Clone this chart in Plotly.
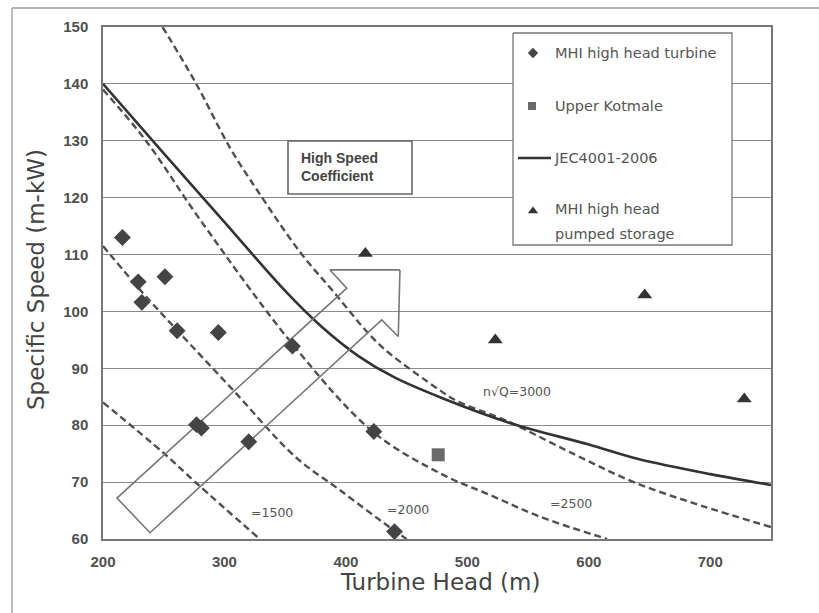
import plotly.graph_objects as go

# ---- data ----
turbine_x = [216, 229, 232, 251, 261, 295, 356, 277, 281, 320, 423, 440]
turbine_y = [113, 105.2, 101.6, 106.1, 96.6, 96.3, 93.9, 80.1, 79.5, 77.1, 78.9, 61.3]

kotmale_x = [476]
kotmale_y = [74.8]

pumped_x = [416, 523, 646, 728]
pumped_y = [110.2, 95.0, 102.9, 84.6]

jec_x = [200, 250, 300, 350, 380, 410, 440, 480, 535, 600, 640, 700, 750]
jec_y = [140, 127.8, 115.7, 103.6, 97.3, 92.2, 88.4, 84.7, 80.4, 76.6, 74.1, 71.4, 69.5]

c3000_x = [249, 276, 305, 327, 362, 390, 420, 436, 477, 491, 532, 587, 637, 692, 750]
c3000_y = [150, 140.3, 128.6, 121.3, 110.5, 103.4, 95.8, 92.6, 86.2, 84.3, 80.8, 75.0, 70.0, 65.9, 62.1]

c2500_x = [200, 235, 280, 357, 422, 478, 519, 560, 609, 615]
c2500_y = [139, 130.1, 116.1, 94.0, 78.9, 71.5, 67.7, 63.9, 60.4, 60]

c2000_x = [200, 233, 261, 307, 358, 395, 439, 450]
c2000_y = [111.5, 103.2, 96.7, 86.2, 74.5, 68.6, 61.6, 60]

c1500_x = [200, 250, 277, 329]
c1500_y = [84, 75.1, 69.8, 60]

curve_labels = ["=1500", "=2000", "=2500", "n\u221aQ=3000"]
curve_label_x = [339, 451, 585, 541]
curve_label_y = [64.6, 65.1, 66.3, 85.9]

arrow_x = [444.5, 386.9, 400.7, 211.5, 238.7, 429.5, 443.1, 444.5]
arrow_y = [107.3, 107.3, 104.1, 67.2, 61.1, 98.5, 95.6, 107.3]

x_ticks = [200, 300, 400, 500, 600, 700]
y_ticks = [60, 70, 80, 90, 100, 110, 120, 130, 140, 150]

legend_names = ["MHI high head turbine", "Upper Kotmale", "JEC4001-2006",
                "MHI high head", "pumped storage"]

DASH = "#505050"

fig = go.Figure()

dash_style = dict(color=DASH, width=2.4, dash="7px,4px")
for cx, cy in [(c1500_x, c1500_y), (c2000_x, c2000_y), (c2500_x, c2500_y), (c3000_x, c3000_y)]:
    fig.add_trace(go.Scatter(x=cx, y=cy, mode="lines", line=dash_style,
                             line_shape="spline", showlegend=False, hoverinfo="skip"))

fig.add_trace(go.Scatter(x=jec_x, y=jec_y, mode="lines",
                         line=dict(color="#333333", width=2.6, smoothing=1.0),
                         line_shape="spline", showlegend=False))

fig.add_trace(go.Scatter(x=arrow_x, y=arrow_y, mode="lines",
                         line=dict(color="#777777", width=1.6), showlegend=False,
                         hoverinfo="skip"))

fig.add_trace(go.Scatter(x=turbine_x, y=turbine_y, mode="markers",
                         marker=dict(symbol="diamond", size=13, color="#444444"),
                         showlegend=False))
fig.add_trace(go.Scatter(x=kotmale_x, y=kotmale_y, mode="markers",
                         marker=dict(symbol="square", size=13, color="#6a6a6a"),
                         showlegend=False))
fig.add_trace(go.Scatter(x=pumped_x, y=pumped_y, mode="markers",
                         marker=dict(symbol="triangle-up", size=13, color="#333333"),
                         showlegend=False))

# ---- boxes and manual legend on a pixel-coordinate overlay axis ----
def box(x0, x1, y0, y1, color, width):
    return go.Scatter(x=[x0, x1, x1, x0, x0], y=[y0, y0, y1, y1, y0], xaxis="x2", yaxis="y2",
                      mode="lines", fill="toself", fillcolor="white",
                      line=dict(color=color, width=width), showlegend=False, hoverinfo="skip")

fig.add_trace(box(513, 732, 33, 245, "#777777", 1.3))
fig.add_trace(box(288, 412, 141, 194, "#666666", 1.6))

fig.add_trace(go.Scatter(x=[533], y=[53], xaxis="x2", yaxis="y2", mode="markers",
                         marker=dict(symbol="diamond", size=8, color="#444444"),
                         showlegend=False, hoverinfo="skip"))
fig.add_trace(go.Scatter(x=[532], y=[106], xaxis="x2", yaxis="y2", mode="markers",
                         marker=dict(symbol="square", size=8, color="#6a6a6a"),
                         showlegend=False, hoverinfo="skip"))
fig.add_trace(go.Scatter(x=[518, 551], y=[158, 158], xaxis="x2", yaxis="y2", mode="lines",
                         line=dict(color="#333333", width=2.4),
                         showlegend=False, hoverinfo="skip"))
fig.add_trace(go.Scatter(x=[533], y=[211], xaxis="x2", yaxis="y2", mode="markers",
                         marker=dict(symbol="triangle-up", size=9, color="#333333"),
                         showlegend=False, hoverinfo="skip"))

shapes = [
    dict(type="line", xref="paper", yref="paper", x0=(12 - 103) / 668, x1=(819 - 103) / 668,
         y0=(539 - 8) / 512, y1=(539 - 8) / 512, line=dict(color="#9a9a9a", width=1.3)),
    dict(type="line", xref="paper", yref="paper", x0=(12 - 103) / 668, x1=(12 - 103) / 668,
         y0=(539 - 8) / 512, y1=(539 - 613) / 512, line=dict(color="#9a9a9a", width=1.3)),
]

leg_font = dict(family="DejaVu Sans", size=14.5, color="#555555")
ann = []
leg_y = [53, 106, 158, 209, 234]
leg_x = [553, 553, 552, 553, 553]
for name, lx, ly in zip(legend_names, leg_x, leg_y):
    ann.append(dict(xref="x2", yref="y2", x=lx, y=ly, text=name, showarrow=False,
                    xanchor="left", yanchor="middle", align="left", font=leg_font))

ann.append(dict(xref="x2", yref="y2", x=299, y=167, text="<b>High Speed<br>Coefficient</b>",
                showarrow=False, xanchor="left", yanchor="middle", align="left",
                font=dict(family="Liberation Sans", size=14, color="#444444")))

for t, lx, ly in zip(curve_labels, curve_label_x, curve_label_y):
    ann.append(dict(x=lx, y=ly, text=t, showarrow=False, xanchor="center", yanchor="middle",
                    font=dict(family="DejaVu Sans", size=12.5, color="#555555")))

ann.append(dict(xref="paper", yref="paper", x=(440 - 103) / 668, y=(539 - 582) / 512,
                text="Turbine Head (m)", showarrow=False, xanchor="center", yanchor="middle",
                font=dict(family="DejaVu Sans", size=23, color="#444444")))
ann.append(dict(xref="paper", yref="paper", x=(36 - 103) / 668, y=(539 - 280) / 512,
                text="Specific Speed (m-kW)", showarrow=False, textangle=-90,
                xanchor="center", yanchor="middle",
                font=dict(family="DejaVu Sans", size=23, color="#444444")))

tick_font = dict(family="Liberation Sans", size=15, color="#505050", weight="bold")

fig.update_layout(
    width=819, height=613,
    margin=dict(l=103, r=48, t=27, b=74),
    paper_bgcolor="white", plot_bgcolor="white",
    showlegend=False,
    shapes=shapes, annotations=ann,
    xaxis=dict(range=[200, 750], tickvals=x_ticks, showgrid=False, zeroline=False,
               showline=True, mirror=True, linecolor="#777777", linewidth=1.5,
               ticks="", tickfont=tick_font, ticklabelstandoff=8),
    yaxis=dict(range=[60, 150], tickvals=y_ticks, showgrid=True, gridcolor="#8a8a8a",
               gridwidth=1.4, zeroline=False, showline=True, mirror=True,
               linecolor="#777777", linewidth=1.5, ticks="", tickfont=tick_font,
               ticklabelstandoff=10),
    xaxis2=dict(range=[103, 771], overlaying="x", visible=False, fixedrange=True),
    yaxis2=dict(range=[539, 27], overlaying="y", visible=False, fixedrange=True),
)

fig.write_html("out.html")
